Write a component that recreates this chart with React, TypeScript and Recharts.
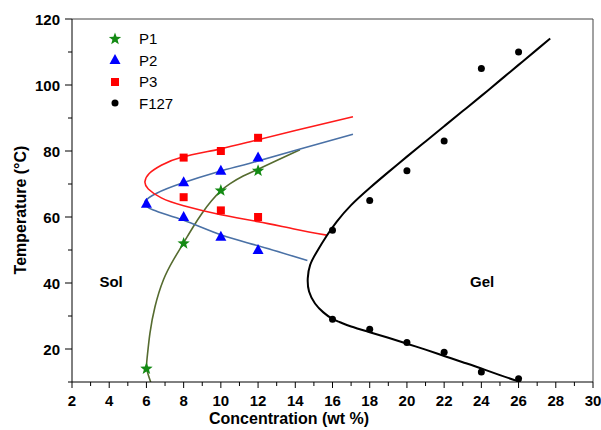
import React from "react";
import {
  ComposedChart, Line, Scatter, XAxis, YAxis, ReferenceLine, ReferenceDot, Label, Legend,
} from "recharts";

// measured points (concentration wt %, temperature °C)
const p1Points = [
  { x: 6, y: 14 }, { x: 8, y: 52 }, { x: 10, y: 68 }, { x: 12, y: 74 },
];
const p2Points = [
  { x: 6, y: 64 }, { x: 8, y: 70.5 }, { x: 10, y: 74 }, { x: 12, y: 78 },
  { x: 8, y: 60 }, { x: 10, y: 54 }, { x: 12, y: 50 },
];
const p3Points = [
  { x: 8, y: 78 }, { x: 10, y: 80 }, { x: 12, y: 84 },
  { x: 8, y: 66 }, { x: 10, y: 62 }, { x: 12, y: 60 },
];
const f127Points = [
  { x: 16, y: 56 }, { x: 18, y: 65 }, { x: 20, y: 74 }, { x: 22, y: 83 }, { x: 24, y: 105 }, { x: 26, y: 110 },
  { x: 16, y: 29 }, { x: 18, y: 26 }, { x: 20, y: 22 }, { x: 22, y: 19 }, { x: 24, y: 13 }, { x: 26, y: 11 },
];

// fitted boundary curves, ordered by temperature
const p1Fit = [
  { x: 6.23, y: 10 }, { x: 6.02, y: 14 }, { x: 6.05, y: 18 }, { x: 6.19, y: 24.8 }, { x: 6.46, y: 32.8 },
  { x: 6.91, y: 40.9 }, { x: 7.45, y: 47 }, { x: 8, y: 52.2 }, { x: 8.5, y: 56.9 }, { x: 9, y: 61.2 },
  { x: 9.5, y: 64.9 }, { x: 10, y: 67.9 }, { x: 10.5, y: 70.1 }, { x: 11.2, y: 72.4 }, { x: 12, y: 74.5 },
  { x: 13, y: 77.1 }, { x: 14.25, y: 80.4 },
];
const p2Fit = [
  { x: 14.65, y: 46.8 }, { x: 12, y: 51.3 }, { x: 10, y: 54.6 }, { x: 8, y: 59 }, { x: 6.37, y: 62.1 },
  { x: 5.92, y: 64.6 }, { x: 6.55, y: 67.2 }, { x: 7.89, y: 70.2 }, { x: 9.86, y: 73.7 }, { x: 11.57, y: 76.3 },
  { x: 14.26, y: 80.6 }, { x: 17.1, y: 85.1 },
];
const p3Fit = [
  { x: 15.69, y: 54.5 }, { x: 14, y: 56.3 }, { x: 12, y: 58.6 }, { x: 10, y: 60.7 }, { x: 8, y: 63.4 },
  { x: 6.8, y: 65.8 }, { x: 6.1, y: 68.5 }, { x: 5.92, y: 70.7 }, { x: 6.15, y: 73.2 }, { x: 6.8, y: 75.7 },
  { x: 7.89, y: 78.1 }, { x: 9.86, y: 80.5 }, { x: 11.57, y: 82.8 }, { x: 14, y: 86.2 }, { x: 17.1, y: 90.4 },
];
const f127Fit = [
  { x: 26.1, y: 10 }, { x: 25, y: 12.1 }, { x: 24, y: 14.1 }, { x: 23, y: 16 }, { x: 22, y: 17.9 },
  { x: 21, y: 19.8 }, { x: 20, y: 21.6 }, { x: 19, y: 23.4 }, { x: 18, y: 25.1 }, { x: 17, y: 26.8 },
  { x: 16.4, y: 28.1 }, { x: 16, y: 29.1 }, { x: 15.51, y: 31.1 }, { x: 15.06, y: 33.8 }, { x: 14.74, y: 37.4 },
  { x: 14.67, y: 41.4 }, { x: 14.8, y: 45.5 }, { x: 15.16, y: 49.5 }, { x: 15.69, y: 54.3 }, { x: 16.23, y: 58.6 },
  { x: 17, y: 63.6 }, { x: 18, y: 68.8 }, { x: 19, y: 73.6 }, { x: 20, y: 78.3 }, { x: 21, y: 82.9 },
  { x: 22, y: 87.5 }, { x: 23, y: 92.1 }, { x: 24, y: 96.7 }, { x: 25, y: 101.4 }, { x: 26, y: 106.1 },
  { x: 27, y: 110.8 }, { x: 27.7, y: 114.1 },
];

const xTicks = [2, 3, 4, 5, 6, 7, 8, 9, 10, 11, 12, 13, 14, 15, 16, 17, 18, 19, 20, 21, 22, 23, 24, 25, 26, 27, 28, 29, 30];
const xLabels = [2, 4, 6, 8, 10, 12, 14, 16, 18, 20, 22, 24, 26, 28, 30];
const yTicks = [10, 20, 30, 40, 50, 60, 70, 80, 90, 100, 110, 120];
const yLabels = [20, 40, 60, 80, 100, 120];

const legendItems = [
  { name: "P1", marker: "star", color: "#138a13" },
  { name: "P2", marker: "triangle", color: "#0000ff" },
  { name: "P3", marker: "square", color: "#ff0000" },
  { name: "F127", marker: "circle", color: "#000000" },
];

const FONT = "Arial, 'Liberation Sans', Helvetica, sans-serif";

function Marker({ type, cx, cy, color }: { type: string; cx: number; cy: number; color: string }) {
  if (type === "star") {
    const pts: string[] = [];
    for (let i = 0; i < 10; i++) {
      const r = i % 2 === 0 ? 6.5 : 2.7;
      const a = -Math.PI / 2 + (i * Math.PI) / 5;
      pts.push(`${cx + r * Math.cos(a)},${cy + r * Math.sin(a)}`);
    }
    return <polygon points={pts.join(" ")} fill={color} />;
  }
  if (type === "triangle") {
    return <polygon points={`${cx},${cy - 6} ${cx + 5.5},${cy + 4} ${cx - 5.5},${cy + 4}`} fill={color} />;
  }
  if (type === "square") {
    return <rect x={cx - 4} y={cy - 4} width={8} height={8} fill={color} />;
  }
  return <circle cx={cx} cy={cy} r={3.5} fill={color} />;
}

const shapeFor = (type: string, color: string) =>
  // eslint-disable-next-line @typescript-eslint/no-explicit-any
  (props: any) => <Marker type={type} cx={props.cx} cy={props.cy} color={color} />;

// eslint-disable-next-line @typescript-eslint/no-explicit-any
function XTick({ x, y, payload }: any) {
  const major = xLabels.includes(payload.value);
  return (
    <g>
      <line x1={x} x2={x} y1={y} y2={y + (major ? 6 : 4)} stroke="#000" />
      {major && (
        <text x={x} y={y + 18} textAnchor="middle" dominantBaseline="central"
          fontFamily={FONT} fontWeight="bold" fontSize={15} fill="#000">
          {payload.value}
        </text>
      )}
    </g>
  );
}

// eslint-disable-next-line @typescript-eslint/no-explicit-any
function YTick({ x, y, payload }: any) {
  const major = yLabels.includes(payload.value);
  return (
    <g>
      <line x1={x} x2={x - (major ? 7 : 4)} y1={y} y2={y} stroke="#000" />
      {major && (
        <text x={x - 12} y={y} textAnchor="end" dominantBaseline="central"
          fontFamily={FONT} fontWeight="bold" fontSize={15} fill="#000">
          {payload.value}
        </text>
      )}
    </g>
  );
}

function LegendBox() {
  return (
    <div style={{ fontFamily: FONT, fontSize: 15 }}>
      {legendItems.map((it) => (
        <div key={it.name} style={{ display: "flex", alignItems: "center", height: 21.5 }}>
          <svg width={26} height={16}>
            <Marker type={it.marker} cx={13} cy={8} color={it.color} />
          </svg>
          <span style={{ marginLeft: 11 }}>{it.name}</span>
        </div>
      ))}
    </div>
  );
}

const regionLabel = (text: string) =>
  // eslint-disable-next-line @typescript-eslint/no-explicit-any
  ({ viewBox }: any) => (
    <text x={viewBox.x + viewBox.width / 2} y={viewBox.y + viewBox.height / 2} textAnchor="middle"
      dominantBaseline="central" fontFamily={FONT} fontWeight="bold" fontSize={15} fill="#000">
      {text}
    </text>
  );

export default function App() {
  return (
    <div style={{ position: "absolute", left: 0, top: 0, background: "#fff" }}>
      <ComposedChart width={601} height={430} margin={{ top: 19, right: 8, bottom: 0, left: 0 }}>
        <XAxis
          type="number" dataKey="x" domain={[2, 30]} ticks={xTicks} interval={0}
          allowDataOverflow height={48} tickSize={0} tickMargin={0} tickLine={false}
          axisLine={{ stroke: "#000" }} tick={<XTick />}
        >
          <Label
            content={() => (
              <text x={289} y={418} textAnchor="middle" dominantBaseline="central"
                fontFamily={FONT} fontWeight="bold" fontSize={16} fill="#000">
                Concentration (wt %)
              </text>
            )}
          />
        </XAxis>
        <YAxis
          type="number" dataKey="y" domain={[10, 120]} ticks={yTicks} interval={0}
          allowDataOverflow width={72} tickSize={0} tickMargin={0} tickLine={false}
          axisLine={{ stroke: "#000" }} tick={<YTick />}
        >
          <Label
            content={() => (
              <text x={20} y={210} transform="rotate(-90 20 210)" textAnchor="middle"
                dominantBaseline="central" fontFamily={FONT} fontWeight="bold" fontSize={16} fill="#000">
                Temperature (°C)
              </text>
            )}
          />
        </YAxis>
        <ReferenceLine x={30} stroke="#444" />
        <ReferenceLine y={120} stroke="#444" />

        <Line data={p1Fit} dataKey="y" type="natural" stroke="#556b2f" strokeWidth={1.6}
          dot={false} activeDot={false} isAnimationActive={false} legendType="none" />
        <Line data={p2Fit} dataKey="y" type="natural" stroke="#4a71a6" strokeWidth={1.6}
          dot={false} activeDot={false} isAnimationActive={false} legendType="none" />
        <Line data={p3Fit} dataKey="y" type="natural" stroke="#ff1a1a" strokeWidth={1.6}
          dot={false} activeDot={false} isAnimationActive={false} legendType="none" />
        <Line data={f127Fit} dataKey="y" type="natural" stroke="#000" strokeWidth={2}
          dot={false} activeDot={false} isAnimationActive={false} legendType="none" />

        <Scatter name="P1" data={p1Points} shape={shapeFor("star", "#138a13")} isAnimationActive={false} />
        <Scatter name="P2" data={p2Points} shape={shapeFor("triangle", "#0000ff")} isAnimationActive={false} />
        <Scatter name="P3" data={p3Points} shape={shapeFor("square", "#ff0000")} isAnimationActive={false} />
        <Scatter name="F127" data={f127Points} shape={shapeFor("circle", "#000")} isAnimationActive={false} />

        <ReferenceDot x={4.1} y={40.6} r={0} stroke="none" fill="none">
          <Label content={regionLabel("Sol")} />
        </ReferenceDot>
        <ReferenceDot x={24.04} y={40.6} r={0} stroke="none" fill="none">
          <Label content={regionLabel("Gel")} />
        </ReferenceDot>

        <Legend layout="vertical" verticalAlign="middle" align="center"
          wrapperStyle={{ left: 102, top: 28, width: 100 }} content={() => <LegendBox />} />
      </ComposedChart>
    </div>
  );
}
